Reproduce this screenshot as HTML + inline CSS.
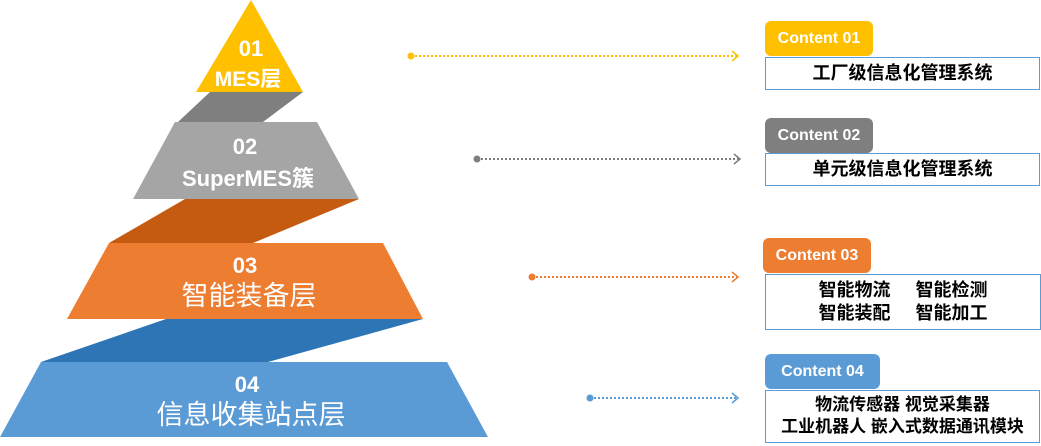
<!DOCTYPE html>
<html><head><meta charset="utf-8"><style>
body{margin:0;width:1041px;height:446px;background:#fff;position:relative;overflow:hidden;font-family:"Liberation Sans","Noto Sans CJK SC",sans-serif}
.t{position:absolute;color:#fff;font-weight:bold;font-size:16px;border-radius:6px;text-align:center;line-height:35px}
.b{position:absolute;border:1.5px solid #5b9bd5;box-sizing:border-box;text-align:center;font-weight:bold;font-size:18px;color:#000}
</style></head><body>
<svg width="1041" height="446" style="position:absolute;left:0;top:0">
<polygon points="210,92 303,92 263,122 178,122" fill="#7f7f7f"/>
<polygon points="251,0 303,92 196,92" fill="#ffc000"/>
<polygon points="185,199 359,199 253,243 109,243" fill="#c55a11"/>
<polygon points="175,122 317,122 359,199 133,199" fill="#a5a5a5"/>
<polygon points="166,319 423,319 268,362 41,362" fill="#2e75b6"/>
<polygon points="109,243 383,243 423,319 67,319" fill="#ed7d31"/>
<polygon points="41,362 447,362 488,437 0,437" fill="#5b9bd5"/>
<g font-family="Liberation Sans,Noto Sans CJK SC,sans-serif" fill="#fff" text-anchor="middle">
<text x="251" y="56" font-size="22" font-weight="bold">01</text>
<text x="248" y="86" font-size="21" font-weight="bold">MES层</text>
<text x="245" y="154" font-size="22" font-weight="bold">02</text>
<text x="248" y="186" font-size="22" font-weight="bold">SuperMES簇</text>
<text x="245" y="273" font-size="22" font-weight="bold">03</text>
<text x="249" y="305" font-size="27">智能装备层</text>
<text x="247" y="392" font-size="22" font-weight="bold">04</text>
<text x="251" y="424" font-size="27">信息收集站点层</text>
</g>
<g stroke-width="2" fill="none" stroke-dasharray="2,2">
<line x1="411" y1="56" x2="738" y2="56" stroke="#ffc000"/>
<line x1="477" y1="159" x2="740" y2="159" stroke="#7f7f7f"/>
<line x1="532" y1="277" x2="738" y2="277" stroke="#ed7d31"/>
<line x1="590" y1="398" x2="738" y2="398" stroke="#5b9bd5"/>
</g>
<g stroke-width="1.5" fill="none">
<polyline points="732,51 738,56 732,61" stroke="#ffc000"/>
<polyline points="734,154 740,159 734,164" stroke="#7f7f7f"/>
<polyline points="732,272 738,277 732,282" stroke="#ed7d31"/>
<polyline points="732,393 738,398 732,403" stroke="#5b9bd5"/>
</g>
<circle cx="411" cy="56" r="3.5" fill="#ffc000"/>
<circle cx="477" cy="159" r="3.5" fill="#7f7f7f"/>
<circle cx="532" cy="277" r="3.5" fill="#ed7d31"/>
<circle cx="590" cy="398" r="3.5" fill="#5b9bd5"/>
</svg>
<div class="t" style="left:765px;top:21px;width:108px;background:#ffc000">Content 01</div>
<div class="b" style="left:765px;top:57px;width:275px;height:33px;line-height:31px">工厂级信息化管理系统</div>
<div class="t" style="left:765px;top:118px;width:108px;background:#7f7f7f">Content 02</div>
<div class="b" style="left:765px;top:153px;width:275px;height:33px;line-height:31px">单元级信息化管理系统</div>
<div class="t" style="left:763px;top:238px;width:108px;background:#ed7d31">Content 03</div>
<div class="b" style="left:765px;top:274px;width:276px;height:56px;line-height:23px;padding-top:4px">智能物流&nbsp;&nbsp;&nbsp;&nbsp;&nbsp;智能检测<br>智能装配&nbsp;&nbsp;&nbsp;&nbsp;&nbsp;智能加工</div>
<div class="t" style="left:765px;top:354px;width:115px;background:#5b9bd5">Content 04</div>
<div class="b" style="left:765px;top:390px;width:275px;height:53px;line-height:22px;padding-top:3px;font-size:17px">物流传感器 视觉采集器<br>工业机器人 嵌入式数据通讯模块</div>
</body></html>
